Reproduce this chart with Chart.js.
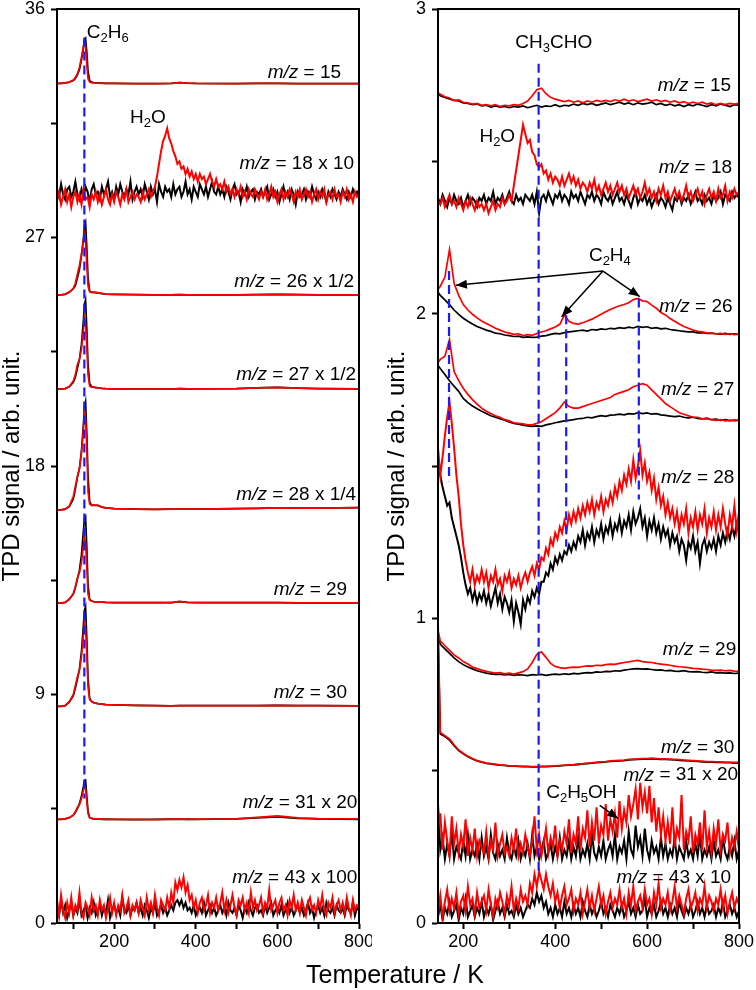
<!DOCTYPE html>
<html>
<head>
<meta charset="utf-8">
<script src="https://cdn.jsdelivr.net/npm/chart.js@4.4.1/dist/chart.umd.min.js"></script>
<style>
body{margin:0;background:#fff;}
#wrap{position:relative;width:756px;height:990px;overflow:hidden;}
#left{position:absolute;left:0;top:0;width:372px;height:990px;}
#right{position:absolute;left:378px;top:0;width:378px;height:990px;}
#xt{position:absolute;left:245px;top:960px;width:300px;text-align:center;font-size:25px;font-family:"Liberation Sans",Arial,sans-serif;line-height:28px;}
</style>
</head>
<body>
<div id="wrap">
<canvas id="left" width="372" height="990"></canvas>
<canvas id="right" width="378" height="990"></canvas>
<div id="xt">Temperature / K</div>
</div>
<script>
const FONT = '"Liberation Sans", Arial, sans-serif'

// ---- left panel, temperature grids
const TL = [60,70,80,90,100,105,110,115,120,125,127,130,133,136,140,145,150,160,170,180,200,250,300,340,360,380,400,500,550,600,650,700,800]
const TL5 = [60,65,70,75,80,85,90,95,100,105,110,115,120,125,130,135,140,145,150,155,
160,165,170,175,180,185,190,195,200,205,210,215,220,225,230,235,240,245,250,255,
260,265,270,275,280,285,290,295,300,305,310,315,320,325,330,335,340,345,350,355,
360,365,370,375,380,385,390,395,400,405,410,415,420,425,430,435,440,445,450,455,
460,465,470,475,480,485,490,495,500,505,510,515,520,525,530,535,540,545,550,555,
560,565,570,575,580,585,590,595,600,605,610,615,620,625,630,635,640,645,650,655,
660,665,670,675,680,685,690,695,700,705,710,715,720,725,730,735,740,745,750,755,
760,765,770,775,780,785,790,795,800]

// left panel series (b = black, r = red)
const L15b = [33.07,33.07,33.09,33.12,33.18,33.26,33.4,33.62,34.0,34.5,34.78,34.85,34.3,33.55,33.18,33.12,33.1,33.09,33.08,33.07,33.07,33.06,33.06,33.07,33.1,33.08,33.07,33.06,33.07,33.07,33.06,33.06,33.06]
const L15r = [33.07,33.07,33.08,33.12,33.2,33.3,33.45,33.7,34.1,34.55,34.72,34.5,33.8,33.25,33.12,33.1,33.09,33.08,33.07,33.07,33.07,33.06,33.06,33.07,33.1,33.08,33.07,33.06,33.07,33.07,33.06,33.06,33.06]
const L26b = [24.74,24.74,24.76,24.84,24.98,25.1,25.4,25.75,26.3,27.0,27.45,27.6,26.6,25.4,24.9,24.84,24.84,24.82,24.79,24.77,24.76,24.75,24.74,24.74,24.75,24.74,24.74,24.74,24.75,24.76,24.75,24.74,24.74]
const L26r = [24.74,24.74,24.77,24.85,25.0,25.2,25.55,25.9,26.35,26.9,27.15,26.9,25.9,25.1,24.86,24.84,24.85,24.83,24.8,24.77,24.76,24.75,24.74,24.74,24.75,24.74,24.74,24.74,24.75,24.76,24.75,24.74,24.74]
const L27b = [21.03,21.03,21.05,21.12,21.3,21.5,21.85,22.2,22.8,23.8,24.35,24.54,23.4,22.0,21.25,21.12,21.1,21.08,21.06,21.05,21.04,21.03,21.03,21.03,21.05,21.04,21.04,21.05,21.08,21.1,21.07,21.05,21.04]
const L27r = [21.03,21.03,21.05,21.13,21.35,21.6,22.0,22.2,22.6,23.4,23.83,23.6,22.7,21.6,21.15,21.1,21.12,21.08,21.06,21.05,21.04,21.03,21.03,21.03,21.05,21.04,21.04,21.05,21.08,21.1,21.07,21.05,21.04]
const L28b = [16.27,16.27,16.3,16.4,16.7,17.1,17.55,17.9,18.6,19.7,20.3,20.53,19.3,17.6,16.6,16.45,16.45,16.45,16.38,16.35,16.32,16.3,16.29,16.3,16.3,16.3,16.3,16.32,16.33,16.35,16.34,16.34,16.36]
const L28r = [16.27,16.27,16.3,16.42,16.8,17.2,17.6,17.9,18.5,19.5,20.2,19.9,18.7,17.0,16.5,16.45,16.47,16.45,16.38,16.35,16.32,16.3,16.29,16.3,16.3,16.3,16.3,16.32,16.33,16.35,16.34,16.34,16.36]
const L29b = [12.6,12.6,12.63,12.75,12.95,13.2,13.55,13.9,14.5,15.5,15.9,16.0,14.8,13.3,12.75,12.68,12.66,12.65,12.64,12.63,12.62,12.62,12.62,12.62,12.66,12.63,12.62,12.62,12.62,12.62,12.61,12.61,12.61]
const L29r = [12.6,12.6,12.63,12.75,12.98,13.25,13.6,13.8,14.2,14.9,15.2,15.0,14.0,12.95,12.72,12.68,12.66,12.65,12.64,12.63,12.62,12.62,12.62,12.62,12.67,12.63,12.62,12.62,12.62,12.62,12.61,12.61,12.61]
const L30b = [8.53,8.53,8.56,8.7,8.95,9.25,9.6,10.0,10.7,11.8,12.3,12.46,11.2,9.6,8.85,8.72,8.68,8.64,8.62,8.6,8.59,8.57,8.56,8.55,8.56,8.56,8.56,8.56,8.56,8.57,8.56,8.56,8.55]
const L30r = [8.53,8.53,8.56,8.72,9.0,9.35,9.7,9.95,10.5,11.4,11.8,11.6,10.6,9.3,8.8,8.72,8.68,8.64,8.62,8.6,8.59,8.57,8.56,8.55,8.56,8.56,8.56,8.56,8.56,8.57,8.56,8.56,8.55]
const L31b = [4.08,4.08,4.1,4.15,4.25,4.35,4.5,4.7,5.0,5.4,5.6,5.63,5.0,4.4,4.15,4.12,4.1,4.1,4.08,4.09,4.08,4.07,4.08,4.09,4.08,4.09,4.08,4.1,4.14,4.18,4.12,4.1,4.08]
const L31r = [4.08,4.09,4.1,4.15,4.25,4.38,4.55,4.65,4.9,5.25,5.37,5.3,4.8,4.3,4.15,4.12,4.1,4.1,4.09,4.08,4.08,4.08,4.07,4.09,4.1,4.08,4.09,4.1,4.16,4.22,4.14,4.11,4.1]

const L18b = [28.9,28.6,29.1,28.7,28.5,28.9,29.0,28.6,28.8,29.2,28.7,28.5,28.9,28.6,29.0,28.8,28.4,28.9,29.1,28.7,
28.8,28.5,29.0,28.7,28.9,29.2,28.6,28.8,28.5,29.0,28.7,29.1,28.8,28.6,28.9,28.7,29.2,28.5,28.8,29.0,
28.7,28.9,28.6,29.1,28.8,28.5,29.0,28.7,28.9,28.4,29.1,28.8,28.6,29.0,28.8,28.9,28.6,29.1,28.7,28.9,
29.0,28.6,28.8,29.2,28.7,28.9,28.5,29.0,28.8,28.6,29.1,28.9,28.7,29.0,28.6,28.9,29.2,28.8,28.7,29.0,
28.7,28.9,28.6,29.0,28.8,28.5,28.9,29.1,28.7,28.8,28.4,28.9,28.7,29.0,28.6,28.8,28.9,28.5,28.8,28.7,
28.9,28.6,28.8,29.0,28.5,28.7,28.9,28.6,28.8,28.4,28.7,29.0,28.6,28.8,28.5,28.9,28.7,28.3,28.8,28.6,
28.7,28.9,28.5,28.8,28.6,29.0,28.7,28.5,28.8,28.6,28.9,28.7,28.4,28.8,28.6,28.9,28.7,28.5,28.8,28.6,
28.9,28.7,28.5,28.8,28.6,28.9,28.7,28.8,28.6]
const L18r = [28.5,28.8,28.3,28.6,28.9,28.4,28.7,28.2,28.6,28.8,28.4,28.7,28.3,28.9,28.5,28.6,28.2,28.7,28.5,28.8,
28.4,28.7,28.3,28.6,28.9,28.5,28.3,28.7,28.4,28.8,28.6,28.3,28.7,28.5,28.9,28.4,28.6,28.8,28.5,28.7,
28.6,28.4,28.8,28.5,28.7,28.9,28.6,28.8,29.0,29.4,29.9,30.4,30.8,31.0,31.3,30.9,30.7,30.4,30.2,29.9,
30.0,29.7,29.8,29.5,29.7,29.4,29.6,29.3,29.5,29.2,29.5,29.3,29.4,29.1,29.3,29.5,29.2,29.0,29.3,29.0,
29.1,28.9,29.2,28.8,29.0,28.7,28.9,28.6,28.9,28.7,29.0,28.6,28.8,28.5,28.9,28.7,28.6,28.9,28.7,28.5,
28.8,28.6,28.9,28.5,28.7,29.0,28.6,28.8,28.4,28.7,28.9,28.5,28.8,28.6,28.9,28.7,28.4,28.8,28.6,28.9,
28.5,28.7,28.9,28.6,28.8,28.4,28.7,28.9,28.5,28.8,28.6,28.9,28.4,28.7,28.8,28.5,28.9,28.6,28.7,28.4,
28.8,28.6,28.9,28.5,28.7,28.4,28.8,28.6,28.7]
const L43b = [0.6,0.3,0.9,0.4,0.7,0.2,0.5,0.8,0.3,0.6,0.4,0.9,0.3,0.5,0.7,0.2,0.6,0.4,0.8,0.3,
0.5,0.7,0.3,0.6,0.4,0.9,0.2,0.5,0.7,0.4,0.6,0.3,1.0,0.5,0.4,0.7,0.3,0.6,0.5,0.8,
0.4,0.6,0.3,0.7,0.5,0.2,0.6,0.4,0.8,0.3,0.5,0.7,0.4,0.6,0.3,0.5,0.7,0.5,0.8,0.9,
0.7,0.9,0.6,0.8,0.5,0.6,0.4,0.7,0.3,0.5,0.6,0.4,0.8,0.3,0.5,0.7,0.4,0.6,0.3,0.5,
0.7,0.4,0.6,0.3,0.8,0.5,0.4,0.6,0.3,0.7,0.5,0.2,0.6,0.4,0.8,0.5,0.3,0.6,0.7,0.4,
0.5,0.3,0.7,0.4,0.6,0.8,0.3,0.5,0.6,0.4,0.7,0.3,0.5,0.8,0.4,0.6,0.3,0.5,0.7,0.4,
0.6,0.3,0.5,0.8,0.4,0.6,0.2,0.5,0.7,0.4,0.6,0.3,0.8,0.5,0.4,0.6,0.3,0.7,0.5,0.4,
0.6,0.3,0.7,0.5,0.4,0.8,0.3,0.6,0.5]
const L43r = [0.9,0.3,1.1,0.5,0.2,0.8,0.4,1.0,0.3,0.7,0.5,1.2,0.4,0.2,0.8,0.6,0.3,1.0,0.5,0.7,
0.3,0.9,0.5,0.7,0.2,0.6,1.0,0.4,0.8,0.3,0.7,0.5,1.1,0.4,0.6,0.9,0.3,0.7,0.5,0.8,
0.4,0.9,0.6,0.3,1.0,0.5,0.8,0.4,1.1,0.6,0.3,0.9,0.7,0.5,1.0,0.6,1.2,0.8,1.6,1.3,
1.7,1.4,1.8,1.2,1.5,0.9,1.1,0.6,0.9,0.4,0.8,1.0,0.5,0.7,1.1,0.4,0.8,0.6,1.0,0.5,
0.8,1.2,0.5,0.9,0.4,0.7,1.1,0.6,0.3,0.9,0.7,1.0,0.5,0.8,0.4,1.2,0.6,0.9,0.5,0.7,
1.0,0.4,0.8,0.6,1.3,0.5,0.7,0.9,0.4,0.8,1.0,0.5,0.7,0.3,0.9,0.6,1.1,0.5,0.8,0.4,
0.9,0.6,0.3,0.8,1.0,0.5,0.7,0.4,0.9,0.6,1.1,0.5,0.3,0.8,0.6,1.0,0.4,0.7,0.9,0.5,
0.8,0.4,1.0,0.6,0.3,0.9,0.5,0.7,0.6]

// ---- right panel, temperature grids
const TR10 = [145,150,160,170,180,190,200,210,220,230,240,250,260,270,280,290,300,310,320,330,340,350,
360,370,380,390,400,410,420,430,440,450,460,470,480,490,500,510,520,530,540,550,
560,570,580,590,600,610,620,630,640,650,660,670,680,690,700,710,720,730,740,750,760,770,780,790,800]
const TR5 = [145,150,155,160,165,170,175,180,185,190,195,200,205,210,215,220,225,230,235,240,
245,250,255,260,265,270,275,280,285,290,295,300,305,310,315,320,325,330,335,340,
345,350,355,360,365,370,375,380,385,390,395,400,405,410,415,420,425,430,435,440,
445,450,455,460,465,470,475,480,485,490,495,500,505,510,515,520,525,530,535,540,
545,550,555,560,565,570,575,580,585,590,595,600,605,610,615,620,625,630,635,640,
645,650,655,660,665,670,675,680,685,690,695,700,705,710,715,720,725,730,735,740,
745,750,755,760,765,770,775,780,785,790,795,800]

const R15b = [2.72,2.715,
2.71,2.705,2.70,2.698,2.692,2.69,2.686,2.688,2.682,2.684,
2.678,2.682,2.678,2.68,2.676,2.68,2.678,2.682,2.676,2.68,
2.684,2.678,2.682,2.68,2.686,2.68,2.684,2.682,2.688,2.684,
2.69,2.686,2.69,2.684,2.688,2.692,2.686,2.69,2.694,2.688,
2.692,2.686,2.692,2.688,2.69,2.694,2.686,2.69,2.684,2.688,
2.682,2.686,2.68,2.686,2.682,2.688,2.684,2.68,2.686,2.682,
2.688,2.684,2.68,2.686,2.684]
const R15r = [2.725,2.72,
2.712,2.708,2.70,2.702,2.694,2.692,2.688,2.69,2.684,2.686,
2.682,2.686,2.68,2.684,2.682,2.686,2.684,2.69,2.698,2.715,
2.735,2.74,2.722,2.71,2.704,2.70,2.696,2.70,2.694,2.698,
2.692,2.698,2.694,2.70,2.696,2.70,2.696,2.702,2.698,2.704,
2.698,2.702,2.696,2.70,2.704,2.698,2.702,2.696,2.70,2.694,
2.698,2.692,2.696,2.69,2.694,2.69,2.694,2.688,2.692,2.686,
2.69,2.686,2.69,2.688,2.69]
const R26b = [2.07,2.06,
2.045,2.03,2.012,1.998,1.985,1.975,1.966,1.958,1.952,1.946,
1.942,1.936,1.934,1.93,1.928,1.925,1.926,1.922,1.924,1.922,
1.923,1.926,1.928,1.932,1.935,1.934,1.938,1.94,1.942,1.944,
1.946,1.943,1.948,1.946,1.95,1.948,1.952,1.95,1.954,1.952,
1.956,1.953,1.958,1.955,1.957,1.952,1.954,1.95,1.952,1.948,
1.946,1.944,1.942,1.94,1.94,1.937,1.938,1.935,1.936,1.934,
1.933,1.935,1.932,1.934,1.932]
const R26r = [2.08,2.09,
2.12,2.21,2.10,2.06,2.03,2.012,1.998,1.986,1.976,1.968,
1.96,1.952,1.946,1.94,1.936,1.932,1.934,1.928,1.931,1.929,
1.935,1.94,1.944,1.95,1.956,1.965,1.995,1.975,1.968,1.966,
1.97,1.976,1.982,1.99,1.998,2.006,2.014,2.02,2.026,2.03,
2.036,2.046,2.05,2.042,2.04,2.028,2.018,2.004,1.996,1.984,
1.975,1.966,1.958,1.952,1.946,1.942,1.94,1.937,1.936,1.934,
1.935,1.932,1.934,1.931,1.933]
const R27b = [1.83,1.82,
1.80,1.78,1.762,1.745,1.722,1.708,1.697,1.688,1.68,1.672,
1.665,1.66,1.655,1.65,1.645,1.64,1.637,1.634,1.632,1.63,
1.632,1.63,1.635,1.638,1.642,1.645,1.648,1.65,1.652,1.655,
1.656,1.66,1.658,1.662,1.665,1.663,1.667,1.668,1.67,1.668,
1.672,1.67,1.675,1.672,1.674,1.67,1.672,1.668,1.666,1.664,
1.662,1.664,1.66,1.658,1.66,1.656,1.655,1.657,1.652,1.654,
1.65,1.652,1.649,1.651,1.65]
const R27r = [1.84,1.85,
1.86,1.915,1.81,1.78,1.755,1.735,1.718,1.703,1.69,1.68,
1.672,1.665,1.66,1.652,1.648,1.642,1.64,1.638,1.635,1.635,
1.64,1.645,1.655,1.665,1.675,1.69,1.71,1.695,1.69,1.69,
1.695,1.70,1.705,1.71,1.715,1.72,1.725,1.735,1.74,1.745,
1.75,1.76,1.765,1.77,1.765,1.75,1.735,1.72,1.705,1.695,
1.685,1.675,1.67,1.665,1.66,1.66,1.655,1.655,1.652,1.65,
1.652,1.648,1.65,1.648,1.65]
const R29b = [0.95,0.915,
0.90,0.885,0.87,0.858,0.848,0.84,0.834,0.828,0.824,0.82,
0.818,0.816,0.817,0.814,0.816,0.813,0.815,0.814,0.812,0.815,
0.814,0.816,0.813,0.815,0.817,0.815,0.818,0.816,0.819,0.818,
0.82,0.822,0.821,0.824,0.823,0.826,0.825,0.828,0.827,0.83,
0.832,0.834,0.835,0.833,0.834,0.832,0.83,0.831,0.828,0.829,
0.827,0.826,0.828,0.825,0.824,0.825,0.823,0.822,0.824,0.821,
0.822,0.82,0.821,0.819,0.82]
const R29r = [0.96,0.925,
0.91,0.895,0.88,0.87,0.858,0.85,0.84,0.835,0.83,0.826,
0.823,0.82,0.822,0.818,0.82,0.817,0.821,0.825,0.834,0.855,
0.882,0.89,0.872,0.852,0.842,0.838,0.836,0.838,0.84,0.839,
0.842,0.844,0.843,0.846,0.845,0.848,0.85,0.849,0.852,0.855,
0.857,0.86,0.862,0.858,0.856,0.855,0.852,0.85,0.848,0.846,
0.843,0.841,0.84,0.838,0.836,0.835,0.833,0.832,0.83,0.829,
0.83,0.828,0.829,0.827,0.826]
const R30b = [0.95,0.62,
0.612,0.6,0.582,0.566,0.555,0.546,0.538,0.532,0.528,0.524,
0.522,0.52,0.518,0.517,0.515,0.515,0.514,0.513,0.513,0.512,
0.512,0.513,0.513,0.514,0.515,0.516,0.517,0.518,0.519,0.52,
0.522,0.523,0.525,0.526,0.527,0.529,0.53,0.531,0.532,0.533,
0.535,0.536,0.537,0.538,0.538,0.539,0.538,0.537,0.537,0.536,
0.535,0.534,0.533,0.532,0.531,0.53,0.529,0.528,0.528,0.527,
0.527,0.526,0.526,0.525,0.525]
const R30r = [1.0,0.625,
0.615,0.604,0.585,0.568,0.557,0.547,0.54,0.533,0.529,0.525,
0.523,0.521,0.519,0.518,0.516,0.516,0.515,0.514,0.514,0.513,
0.513,0.514,0.514,0.515,0.516,0.517,0.518,0.519,0.52,0.522,
0.523,0.525,0.526,0.528,0.529,0.53,0.532,0.533,0.534,0.535,
0.537,0.538,0.539,0.54,0.54,0.541,0.54,0.539,0.539,0.538,
0.537,0.536,0.535,0.534,0.533,0.532,0.531,0.53,0.53,0.529,
0.529,0.528,0.528,0.527,0.527]

const R18b = [2.38,2.36,2.39,2.37,2.35,2.38,2.36,2.39,2.37,2.36,2.38,2.35,2.37,2.39,2.36,2.38,2.37,2.35,2.38,2.37,
2.39,2.36,2.38,2.37,2.40,2.36,2.38,2.37,2.39,2.36,2.38,2.40,2.37,2.36,2.39,2.37,2.38,2.36,2.39,2.38,
2.37,2.39,2.36,2.40,2.33,2.38,2.39,2.37,2.40,2.38,2.36,2.39,2.38,2.40,2.37,2.39,2.38,2.36,2.40,2.38,
2.39,2.37,2.40,2.38,2.36,2.39,2.38,2.40,2.37,2.39,2.38,2.36,2.40,2.38,2.37,2.39,2.36,2.38,2.40,2.37,
2.38,2.36,2.39,2.37,2.35,2.38,2.40,2.36,2.38,2.37,2.39,2.36,2.38,2.35,2.37,2.39,2.36,2.38,2.37,2.35,
2.38,2.36,2.34,2.38,2.37,2.39,2.36,2.38,2.37,2.39,2.36,2.38,2.40,2.37,2.38,2.36,2.39,2.37,2.38,2.36,
2.39,2.37,2.38,2.40,2.36,2.39,2.38,2.37,2.40,2.38,2.39,2.38]
const R18r = [2.37,2.36,2.38,2.35,2.37,2.39,2.36,2.37,2.35,2.38,2.36,2.34,2.37,2.35,2.38,2.36,2.34,2.37,2.35,2.36,
2.34,2.36,2.33,2.35,2.37,2.34,2.36,2.35,2.38,2.36,2.37,2.39,2.37,2.42,2.47,2.52,2.57,2.62,2.59,2.56,
2.57,2.53,2.52,2.49,2.48,2.49,2.46,2.47,2.44,2.46,2.43,2.45,2.44,2.42,2.45,2.42,2.44,2.46,2.43,2.45,
2.42,2.44,2.41,2.43,2.42,2.40,2.43,2.41,2.44,2.40,2.42,2.39,2.41,2.43,2.40,2.42,2.39,2.41,2.43,2.40,
2.42,2.39,2.41,2.38,2.40,2.42,2.39,2.41,2.38,2.40,2.43,2.39,2.41,2.38,2.40,2.37,2.41,2.39,2.42,2.38,
2.40,2.37,2.39,2.41,2.38,2.40,2.37,2.39,2.42,2.38,2.40,2.37,2.39,2.41,2.38,2.40,2.36,2.39,2.41,2.38,
2.40,2.37,2.41,2.38,2.39,2.42,2.37,2.40,2.38,2.41,2.39,2.40]
const R28b = [1.52,1.47,1.43,1.40,1.37,1.38,1.33,1.30,1.27,1.24,1.20,1.15,1.11,1.08,1.10,1.06,1.09,1.05,1.08,1.06,
1.09,1.05,1.08,1.04,1.07,1.10,1.05,1.08,1.03,1.07,1.05,1.02,1.06,0.99,1.05,1.02,0.98,1.06,1.03,1.07,
1.05,1.09,1.07,1.10,1.08,1.12,1.12,1.15,1.14,1.18,1.16,1.20,1.18,1.21,1.19,1.22,1.21,1.24,1.22,1.25,
1.23,1.27,1.25,1.29,1.24,1.28,1.26,1.30,1.25,1.29,1.27,1.31,1.26,1.30,1.28,1.32,1.27,1.31,1.29,1.33,
1.28,1.32,1.30,1.34,1.29,1.35,1.31,1.33,1.36,1.30,1.33,1.27,1.32,1.29,1.33,1.28,1.31,1.26,1.30,1.27,
1.29,1.24,1.28,1.25,1.27,1.22,1.26,1.24,1.19,1.25,1.23,1.27,1.22,1.25,1.18,1.24,1.26,1.22,1.25,1.23,
1.26,1.22,1.27,1.24,1.28,1.25,1.29,1.26,1.30,1.27,1.31,1.28]
const R28r = [1.56,1.47,1.53,1.60,1.66,1.71,1.64,1.56,1.47,1.40,1.31,1.24,1.19,1.15,1.12,1.16,1.11,1.14,1.12,1.16,
1.12,1.15,1.10,1.14,1.12,1.16,1.11,1.13,1.09,1.14,1.12,1.15,1.10,1.13,1.11,1.14,1.10,1.13,1.15,1.12,
1.15,1.17,1.14,1.18,1.16,1.20,1.19,1.23,1.21,1.26,1.24,1.28,1.26,1.30,1.28,1.32,1.29,1.34,1.31,1.35,
1.32,1.36,1.33,1.37,1.34,1.38,1.35,1.39,1.34,1.38,1.36,1.40,1.35,1.39,1.37,1.41,1.38,1.43,1.40,1.45,
1.42,1.47,1.44,1.49,1.45,1.52,1.46,1.50,1.55,1.47,1.51,1.45,1.48,1.42,1.46,1.39,1.43,1.37,1.40,1.34,
1.38,1.33,1.36,1.31,1.35,1.29,1.34,1.31,1.36,1.28,1.33,1.30,1.35,1.29,1.34,1.31,1.36,1.28,1.33,1.30,
1.35,1.29,1.34,1.30,1.36,1.31,1.27,1.34,1.30,1.37,1.29,1.35]
const R31b = [0.39,0.24,0.28,0.21,0.26,0.22,0.30,0.21,0.25,0.23,0.21,0.27,0.22,0.29,0.21,0.24,0.22,0.26,0.21,0.28,
0.22,0.25,0.21,0.29,0.23,0.21,0.26,0.22,0.24,0.21,0.28,0.23,0.21,0.25,0.22,0.27,0.21,0.24,0.22,0.26,
0.21,0.29,0.22,0.25,0.21,0.24,0.27,0.21,0.23,0.26,0.21,0.25,0.22,0.28,0.21,0.24,0.22,0.27,0.21,0.25,
0.22,0.28,0.21,0.24,0.22,0.26,0.21,0.29,0.23,0.21,0.25,0.22,0.27,0.21,0.24,0.26,0.22,0.29,0.21,0.25,
0.23,0.27,0.21,0.30,0.24,0.22,0.32,0.25,0.28,0.22,0.31,0.24,0.21,0.27,0.23,0.25,0.21,0.28,0.22,0.26,
0.21,0.24,0.22,0.28,0.21,0.25,0.23,0.21,0.27,0.22,0.24,0.21,0.26,0.22,0.29,0.21,0.24,0.22,0.25,0.21,
0.27,0.22,0.24,0.21,0.28,0.23,0.21,0.25,0.22,0.27,0.21,0.24]
const R31r = [0.30,0.36,0.24,0.33,0.27,0.22,0.35,0.26,0.31,0.23,0.29,0.25,0.34,0.22,0.28,0.24,0.31,0.22,0.27,0.25,
0.23,0.30,0.22,0.27,0.24,0.33,0.22,0.26,0.29,0.23,0.25,0.22,0.28,0.24,0.31,0.22,0.26,0.23,0.29,0.25,
0.22,0.27,0.35,0.24,0.29,0.22,0.26,0.31,0.23,0.28,0.25,0.32,0.22,0.27,0.24,0.30,0.26,0.34,0.23,0.29,
0.26,0.35,0.24,0.31,0.28,0.37,0.25,0.33,0.27,0.38,0.26,0.32,0.29,0.39,0.27,0.34,0.30,0.36,0.28,0.40,
0.31,0.37,0.33,0.42,0.35,0.39,0.44,0.34,0.46,0.38,0.43,0.36,0.45,0.33,0.41,0.30,0.38,0.29,0.35,0.27,
0.33,0.26,0.38,0.25,0.31,0.28,0.42,0.24,0.30,0.27,0.35,0.23,0.29,0.26,0.33,0.24,0.37,0.25,0.30,0.23,
0.31,0.26,0.34,0.24,0.29,0.27,0.33,0.23,0.28,0.25,0.30,0.24]
const R43b = [0.02,0.06,0.01,0.05,0.03,0.07,0.02,0.04,0.06,0.01,0.05,0.03,0.08,0.02,0.04,0.06,0.02,0.05,0.03,0.07,
0.02,0.05,0.03,0.06,0.01,0.04,0.07,0.03,0.05,0.02,0.06,0.03,0.04,0.02,0.06,0.03,0.05,0.02,0.04,0.06,
0.05,0.08,0.06,0.10,0.07,0.09,0.05,0.07,0.03,0.05,0.02,0.06,0.03,0.05,0.02,0.07,0.03,0.05,0.02,0.06,
0.03,0.05,0.02,0.07,0.04,0.02,0.06,0.03,0.05,0.02,0.04,0.07,0.03,0.05,0.02,0.06,0.04,0.02,0.05,0.03,
0.06,0.02,0.04,0.07,0.03,0.05,0.02,0.06,0.03,0.04,0.08,0.02,0.05,0.03,0.06,0.02,0.04,0.07,0.03,0.05,
0.02,0.06,0.03,0.05,0.02,0.07,0.04,0.02,0.05,0.03,0.06,0.02,0.04,0.07,0.03,0.05,0.02,0.06,0.03,0.04,
0.06,0.02,0.05,0.03,0.07,0.02,0.04,0.06,0.03,0.05,0.02,0.04]
const R43r = [0.03,0.09,0.02,0.07,0.11,0.04,0.08,0.05,0.10,0.03,0.07,0.09,0.04,0.12,0.06,0.08,0.03,0.10,0.05,0.07,
0.09,0.04,0.11,0.06,0.02,0.08,0.05,0.10,0.07,0.03,0.09,0.06,0.12,0.04,0.08,0.05,0.11,0.07,0.09,0.06,
0.13,0.10,0.16,0.12,0.17,0.14,0.11,0.16,0.12,0.09,0.13,0.07,0.10,0.05,0.09,0.12,0.06,0.08,0.11,0.04,
0.08,0.06,0.10,0.03,0.07,0.11,0.05,0.09,0.04,0.08,0.12,0.06,0.09,0.03,0.07,0.10,0.05,0.08,0.06,0.11,
0.05,0.08,0.03,0.10,0.06,0.12,0.04,0.07,0.09,0.05,0.11,0.06,0.08,0.03,0.10,0.06,0.13,0.05,0.08,0.06,
0.10,0.04,0.07,0.12,0.05,0.09,0.06,0.03,0.08,0.11,0.05,0.07,0.10,0.04,0.08,0.06,0.12,0.05,0.09,0.07,
0.04,0.08,0.06,0.11,0.05,0.09,0.03,0.07,0.10,0.05,0.08,0.06]

// dashed guide lines: [T, yTop, yBottom]
const guidesL = [[127, 34.88, 4.9]]
const guidesR = [[364, 2.82, 0.17], [169, 2.14, 1.45], [424, 1.995, 1.235], [582, 2.05, 1.39]]

// arrows: [x0, y0, x1, y1]
const arrowsR = [[504, 2.14, 184, 2.093], [504, 2.14, 414, 1.99], [504, 2.14, 584, 2.056], [497, 0.386, 537, 0.343]]

// text labels: [text, T, y, align]  (*..* italic, _x subscript)
const labelsL = [
  ['C_2H_6', 133, 35.07, 'left'],
  ['H_2O', 239, 31.7, 'left'],
  ['*m/z* = 15', 756, 33.5, 'right'],
  ['*m/z* = 18 x 10', 788, 29.9, 'right'],
  ['*m/z* = 26 x 1/2', 788, 25.25, 'right'],
  ['*m/z* = 27 x 1/2', 793, 21.6, 'right'],
  ['*m/z* = 28 x 1/4', 793, 16.86, 'right'],
  ['*m/z* = 29', 771, 13.12, 'right'],
  ['*m/z* = 30', 771, 9.06, 'right'],
  ['*m/z* = 31 x 20', 796, 4.73, 'right'],
  ['*m/z* = 43 x 100', 796, 1.77, 'right']
]
const labelsR = [
  ['CH_3CHO', 397, 2.889, 'center'],
  ['*m/z* = 15', 783, 2.748, 'right'],
  ['H_2O', 274, 2.58, 'center'],
  ['*m/z* = 18', 785, 2.478, 'right'],
  ['C_2H_4', 519, 2.19, 'center'],
  ['*m/z* = 26', 786, 2.022, 'right'],
  ['*m/z* = 27', 790, 1.749, 'right'],
  ['*m/z* = 28', 790, 1.46, 'right'],
  ['*m/z* = 29', 794, 0.896, 'right'],
  ['*m/z* = 30', 790, 0.574, 'right'],
  ['*m/z* = 31 x 20', 798, 0.485, 'right'],
  ['C_2H_5OH', 457, 0.426, 'center'],
  ['*m/z* = 43 x 10', 783, 0.147, 'right']
]

// the noisy ones get a slightly heavier pen, like the dense raw traces
const noisy = [L18b, L18r, L43b, L43r, R18b, R18r, R28b, R28r, R31b, R31r, R43b, R43r]

function pts(xs, ys) { return xs.map((x, i) => ({x: x, y: ys[i]})) }
function trace(xs, ys, color) {
  return {data: pts(xs, ys), borderColor: color, borderWidth: noisy.includes(ys) ? 2 : 1.7,
    pointRadius: 0, tension: 0, fill: false, order: color === 'red' ? 2 : 3}
}
function guide(g) {
  return {data: [{x: g[0], y: g[1]}, {x: g[0], y: g[2]}], borderColor: '#1a1aff', borderWidth: 2.2, borderDash: [9, 5], pointRadius: 0, order: 1}
}
function arrow(a) {
  return {data: [{x: a[0], y: a[1]}, {x: a[2], y: a[3]}], borderColor: '#000', borderWidth: 1.5, pointRadius: 0, order: 0}
}

function richRuns(t) {
  const out = []
  let it = false
  for (let i = 0; i < t.length; i++) {
    const c = t[i]
    if (c === '*') { it = !it; continue }
    if (c === '_') { out.push({c: t[i + 1], it: it, sub: true}); i++; continue }
    out.push({c: c, it: it, sub: false})
  }
  return out
}
function fontFor(r) { return (r.it ? 'italic ' : '') + (r.sub ? '13px ' : '19px ') + FONT }

function makeAnnot(labels, arrows) {
  return {
    id: 'annot',
    afterDraw(chart) {
      const ctx = chart.ctx
      const xs = chart.scales.x, ys = chart.scales.y
      const a = chart.chartArea
      ctx.save()
      ctx.strokeStyle = '#000'
      ctx.lineWidth = 2
      ctx.strokeRect(a.left, a.top, a.right - a.left, a.bottom - a.top)
      // arrow heads
      ctx.fillStyle = '#000'
      arrows.forEach(ar => {
        const x0 = xs.getPixelForValue(ar[0]), y0 = ys.getPixelForValue(ar[1])
        const x1 = xs.getPixelForValue(ar[2]), y1 = ys.getPixelForValue(ar[3])
        const ang = Math.atan2(y1 - y0, x1 - x0)
        const L = 11, W = 4.5
        ctx.beginPath()
        ctx.moveTo(x1, y1)
        ctx.lineTo(x1 - L * Math.cos(ang) + W * Math.sin(ang), y1 - L * Math.sin(ang) - W * Math.cos(ang))
        ctx.lineTo(x1 - L * Math.cos(ang) - W * Math.sin(ang), y1 - L * Math.sin(ang) + W * Math.cos(ang))
        ctx.closePath()
        ctx.fill()
      })
      // labels
      ctx.textBaseline = 'middle'
      ctx.textAlign = 'left'
      labels.forEach(l => {
        const runs = richRuns(l[0])
        let w = 0
        runs.forEach(r => { ctx.font = fontFor(r); r.w = ctx.measureText(r.c).width; w += r.w })
        let x = xs.getPixelForValue(l[1])
        const y = ys.getPixelForValue(l[2])
        if (l[3] === 'right') x -= w
        if (l[3] === 'center') x -= w / 2
        runs.forEach(r => {
          ctx.font = fontFor(r)
          ctx.fillText(r.c, x, r.sub ? y + 5.5 : y)
          x += r.w
        })
      })
      ctx.restore()
    }
  }
}

function isMult(v, m) { return Math.abs(v / m - Math.round(v / m)) < 1e-6 }

function options(xmin, ymax, ystep, ymajor, yw, padR, titlePad) {
  return {
    responsive: false,
    animation: false,
    events: [],
    layout: {padding: {top: 9, right: padR, bottom: 0, left: 0}},
    plugins: {legend: {display: false}, tooltip: {enabled: false}},
    scales: {
      x: {
        type: 'linear', min: xmin, max: 800,
        border: {display: true, color: '#000', width: 2},
        grid: {drawOnChartArea: false, drawTicks: true, tickLength: 6, tickWidth: 2, tickColor: '#000'},
        ticks: {stepSize: 100, includeBounds: false, autoSkip: false, maxRotation: 0, padding: 2, color: '#000',
          font: {family: FONT, size: 18},
          callback: v => isMult(v, 200) ? String(v) : ''},
        afterFit(s) { s.height = 67; s.paddingLeft = 0; s.paddingRight = 0 }
      },
      y: {
        type: 'linear', min: 0, max: ymax,
        border: {display: true, color: '#000', width: 2},
        grid: {drawOnChartArea: false, drawTicks: true, tickLength: 6, tickWidth: 2, tickColor: '#000'},
        ticks: {stepSize: ystep, includeBounds: false, autoSkip: false, padding: 6, color: '#000',
          font: {family: FONT, size: 18},
          callback: v => isMult(v, ymajor) ? String(Math.round(v)) : ''},
        title: {display: true, text: 'TPD signal / arb. unit.', color: '#000',
          font: {family: FONT, size: 24, lineHeight: 1}, padding: {top: titlePad, bottom: 0}},
        afterFit(s) { s.width = yw; s.paddingTop = 0; s.paddingBottom = 0 }
      }
    }
  }
}

const leftSets = [
  trace(TL, L15b, 'black'), trace(TL, L15r, 'red'),
  trace(TL5, L18b, 'black'), trace(TL5, L18r, 'red'),
  trace(TL, L26b, 'black'), trace(TL, L26r, 'red'),
  trace(TL, L27b, 'black'), trace(TL, L27r, 'red'),
  trace(TL, L28b, 'black'), trace(TL, L28r, 'red'),
  trace(TL, L29b, 'black'), trace(TL, L29r, 'red'),
  trace(TL, L30b, 'black'), trace(TL, L30r, 'red'),
  trace(TL, L31b, 'black'), trace(TL, L31r, 'red'),
  trace(TL5, L43b, 'black'), trace(TL5, L43r, 'red')
].concat(guidesL.map(guide))

const rightSets = [
  trace(TR10, R15b, 'black'), trace(TR10, R15r, 'red'),
  trace(TR5, R18b, 'black'), trace(TR5, R18r, 'red'),
  trace(TR10, R26b, 'black'), trace(TR10, R26r, 'red'),
  trace(TR10, R27b, 'black'), trace(TR10, R27r, 'red'),
  trace(TR5, R28b, 'black'), trace(TR5, R28r, 'red'),
  trace(TR10, R29b, 'black'), trace(TR10, R29r, 'red'),
  trace(TR10, R30b, 'black'), trace(TR10, R30r, 'red'),
  trace(TR5, R31b, 'black'), trace(TR5, R31r, 'red'),
  trace(TR5, R43b, 'black'), trace(TR5, R43r, 'red')
].concat(guidesR.map(guide)).concat(arrowsR.map(arrow))

new Chart(document.getElementById('left'), {
  type: 'line',
  data: {datasets: leftSets},
  options: options(60, 36, 4.5, 9, 57, 13, 0),
  plugins: [makeAnnot(labelsL, [])]
})

new Chart(document.getElementById('right'), {
  type: 'line',
  data: {datasets: rightSets},
  options: options(145, 3, 0.5, 1, 60, 17, 7.5),
  plugins: [makeAnnot(labelsR, arrowsR)]
})
</script>
</body>
</html>
